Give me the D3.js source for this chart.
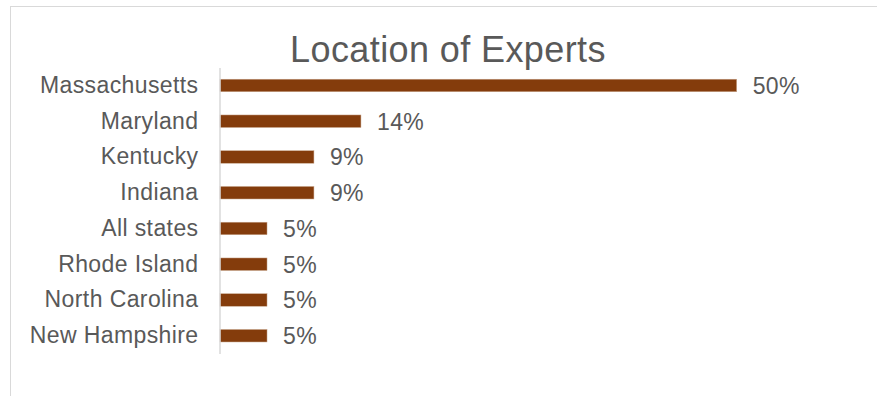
<!DOCTYPE html>
<html>
<head>
<meta charset="utf-8">
<script src="https://cdn.jsdelivr.net/npm/d3@7/dist/d3.min.js"></script>
<style>
  html, body { margin: 0; padding: 0; background: #ffffff; }
  svg { display: block; }
  text { font-family: "Liberation Sans", Arial, sans-serif; fill: #595959; }
</style>
</head>
<body>
<svg id="chart" width="877" height="396"></svg>
<script>
// Share of experts by state (11, 3, 2, 2, 1, 1, 1, 1 out of 22)
const states = ["Massachusetts", "Maryland", "Kentucky", "Indiana",
                "All states", "Rhode Island", "North Carolina", "New Hampshire"];
const shares = [0.5, 0.1364, 0.0909, 0.0909, 0.0455, 0.0455, 0.0455, 0.0455];
const chartTitle = "Location of Experts";

const svg = d3.select("#chart");
const W = 877, H = 396;

// chart area frame
svg.append("rect")
  .attr("x", 10.5).attr("y", 6.5)
  .attr("width", W + 10).attr("height", H + 10)
  .attr("fill", "none")
  .attr("stroke", "#d9d9d9")
  .attr("stroke-width", 1);

const x = d3.scaleLinear().domain([0, 0.6]).range([220, 840]);
const y = d3.scaleBand()
  .domain(states)
  .range([67.6, 353.6])
  .paddingInner(0.65)
  .paddingOuter(0.325);

// title
svg.append("text")
  .attr("x", 448).attr("y", 61.5)
  .attr("text-anchor", "middle")
  .style("font-size", "36px")
  .style("letter-spacing", "0.4px")
  .text(chartTitle);

// bars
svg.append("g").selectAll("rect")
  .data(states)
  .join("rect")
  .attr("x", x(0))
  .attr("y", d => y(d))
  .attr("width", (d, i) => x(shares[i]) - x(0))
  .attr("height", y.bandwidth())
  .attr("fill", "#843c0c")
  .attr("stroke", "#c8a58c")
  .attr("stroke-width", 0.5);

// category axis
const axis = svg.append("g")
  .attr("transform", `translate(${x(0) - 0.5},0)`)
  .call(d3.axisLeft(y).tickSize(0).tickPadding(21));
axis.select(".domain")
  .attr("stroke", "#d9d9d9")
  .attr("stroke-width", 1.5);
axis.selectAll("text")
  .style("font-size", "23px")
  .style("letter-spacing", "0.4px")
  .style("fill", "#595959")
  .style("font-family", "\"Liberation Sans\", Arial, sans-serif");

// value labels
const fmt = d3.format(".0%");
svg.append("g").selectAll("text")
  .data(states)
  .join("text")
  .attr("x", (d, i) => x(shares[i]) + 16)
  .attr("y", d => y(d) + y.bandwidth() / 2)
  .attr("dy", "0.36em")
  .style("font-size", "23px")
  .style("letter-spacing", "0.4px")
  .text((d, i) => fmt(shares[i]));
</script>
</body>
</html>
